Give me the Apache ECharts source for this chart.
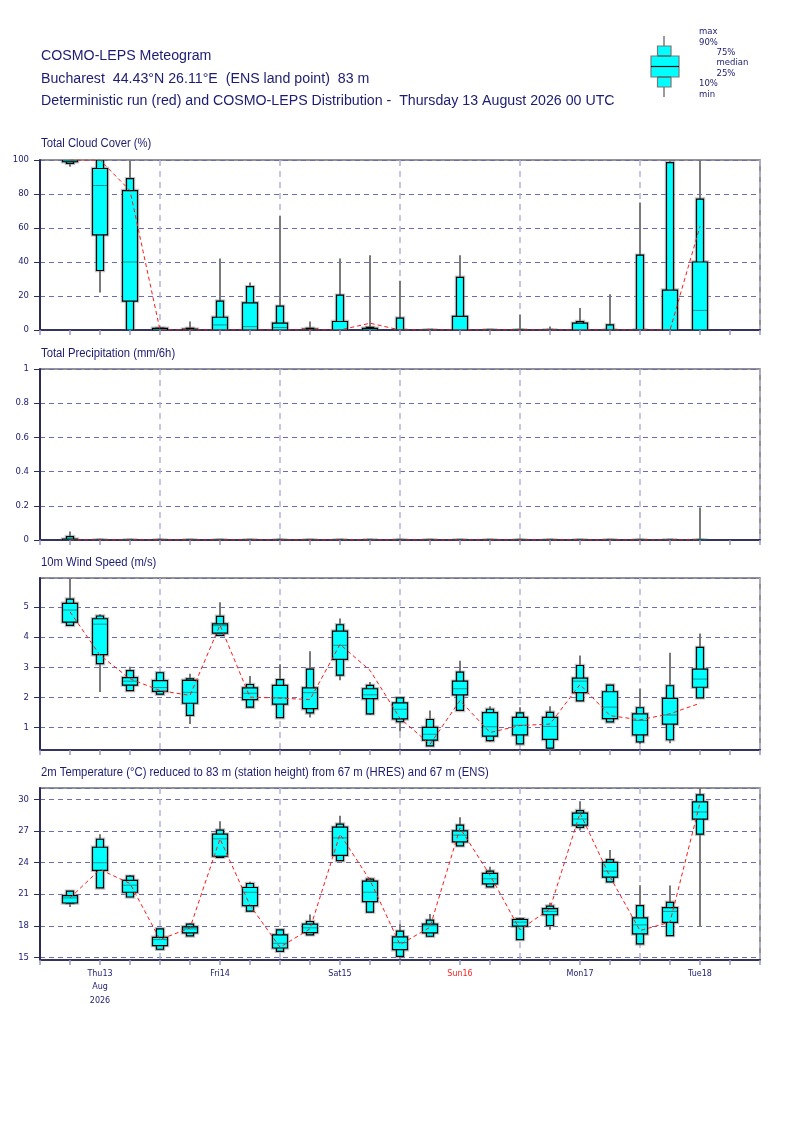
<!DOCTYPE html>
<html>
<head>
<meta charset="utf-8">
<script src="https://cdn.jsdelivr.net/npm/echarts@6/dist/echarts.min.js"></script>
<style>
  html, body { margin: 0; padding: 0; background: #fff; }
  #chart { width: 800px; height: 1131px; }
</style>
</head>
<body>
<div id="chart"></div>
<script>
// forecast steps (hours after 13 Aug 00 UTC)
const hours = [6, 12, 18, 24, 30, 36, 42, 48, 54, 60, 66, 72, 78, 84, 90, 96, 102, 108, 114, 120, 126, 132];

// each row: [min, 10%, 25%, median, 75%, 90%, max]
const cloudBox = [
  [96, 98, 99, 99.5, 100, 100, 100],
  [22, 35, 56, 85, 95, 100, 100],
  [0, 0, 17, 40, 82, 89, 100],
  [0, 0, 0, 0, 1, 1, 1.5],
  [0, 0, 0, 0, 0.5, 1, 5],
  [0, 0, 0, 3, 7.5, 17, 42],
  [0, 0, 0, 2, 16, 25.5, 28],
  [0, 0, 0, 1.5, 4, 14, 67],
  [0, 0, 0, 0, 0.5, 1, 5],
  [0, 0, 0, 0, 5, 20.5, 42],
  [0, 0, 0, 0, 1, 1.5, 44],
  [0, 0, 0, 0, 0, 7, 29],
  [0, 0, 0, 0, 0, 0, 0],
  [0, 0, 0, 0, 8, 31, 44],
  [0, 0, 0, 0, 0, 0, 0],
  [0, 0, 0, 0, 0, 0, 9],
  [0, 0, 0, 0, 0, 0, 2],
  [0, 0, 0, 0, 4, 5, 13],
  [0, 0, 0, 0, 0, 3, 21],
  [0, 0, 0, 0, 0, 44, 75],
  [0, 0, 0, 0, 23.5, 98.5, 100],
  [0, 0, 0, 11.5, 40, 77, 100]
];
const cloudDet = [100, 100, 82, 0, 0, 0, 0, 0, 0, 0, 4, 0, 0, 0, 0, 0, 0, 0, 0, 0, 0, 61];

const precipBox = [
  [0, 0, 0, 0, 0.005, 0.02, 0.05],
  [0, 0, 0, 0, 0, 0, 0.008],
  [0, 0, 0, 0, 0, 0, 0],
  [0, 0, 0, 0, 0, 0, 0],
  [0, 0, 0, 0, 0, 0, 0],
  [0, 0, 0, 0, 0, 0, 0],
  [0, 0, 0, 0, 0, 0, 0],
  [0, 0, 0, 0, 0, 0, 0],
  [0, 0, 0, 0, 0, 0, 0],
  [0, 0, 0, 0, 0, 0, 0],
  [0, 0, 0, 0, 0, 0, 0],
  [0, 0, 0, 0, 0, 0, 0],
  [0, 0, 0, 0, 0, 0, 0],
  [0, 0, 0, 0, 0, 0, 0],
  [0, 0, 0, 0, 0, 0, 0],
  [0, 0, 0, 0, 0, 0, 0],
  [0, 0, 0, 0, 0, 0, 0],
  [0, 0, 0, 0, 0, 0, 0],
  [0, 0, 0, 0, 0, 0, 0],
  [0, 0, 0, 0, 0, 0, 0],
  [0, 0, 0, 0, 0, 0, 0],
  [0, 0, 0, 0, 0, 0, 0.19]
];
const precipDet = [0, 0, 0, 0, 0, 0, 0, 0, 0, 0, 0, 0, 0, 0, 0, 0, 0, 0, 0, 0, 0, 0];

const windBox = [
  [4.39, 4.39, 4.5, 4.9, 5.12, 5.26, 6.0],
  [2.18, 3.12, 3.42, 4.43, 4.61, 4.7, 4.76],
  [2.23, 2.23, 2.41, 2.54, 2.66, 2.89, 3.02],
  [2.11, 2.11, 2.2, 2.33, 2.56, 2.82, 2.82],
  [1.12, 1.41, 1.81, 2.17, 2.57, 2.62, 2.79],
  [4.06, 4.06, 4.13, 4.38, 4.44, 4.69, 5.16],
  [1.68, 1.68, 1.93, 2.14, 2.32, 2.43, 2.71],
  [1.33, 1.33, 1.78, 1.99, 2.4, 2.59, 3.1],
  [1.34, 1.49, 1.63, 2.16, 2.32, 2.94, 3.53],
  [2.57, 2.74, 3.26, 3.73, 4.2, 4.41, 4.62],
  [1.42, 1.46, 1.96, 2.09, 2.29, 2.4, 2.51],
  [0.87, 1.2, 1.29, 1.61, 1.82, 1.99, 2.0],
  [0.4, 0.4, 0.59, 0.78, 1.01, 1.27, 1.57],
  [1.57, 1.57, 2.09, 2.29, 2.54, 2.84, 3.22],
  [0.53, 0.57, 0.72, 1.03, 1.5, 1.61, 1.71],
  [0.46, 0.46, 0.76, 1.08, 1.34, 1.49, 1.68],
  [0.32, 0.32, 0.61, 1.04, 1.34, 1.51, 1.71],
  [1.89, 1.89, 2.16, 2.54, 2.64, 3.06, 3.39],
  [1.19, 1.19, 1.3, 1.68, 2.19, 2.41, 2.41],
  [0.46, 0.53, 0.76, 1.24, 1.46, 1.66, 2.29],
  [0.48, 0.6, 1.12, 1.42, 1.97, 2.39, 3.48],
  [1.99, 1.99, 2.34, 2.61, 2.94, 3.66, 4.12]
];
const windDet = [4.84, 3.4, 2.62, 2.23, 2.07, 4.4, 2.01, 1.98, 1.93, 3.76, 2.9, 1.31, 0.45, 1.9, 0.84, 1.07, 1.12, 2.43, 1.4, 1.26, 1.46, 1.81];

const tempBox = [
  [19.79, 20.17, 20.17, 20.65, 20.87, 21.29, 21.29],
  [21.6, 21.6, 23.27, 24.0, 25.47, 26.23, 26.71],
  [20.74, 20.74, 21.19, 21.86, 22.31, 22.72, 22.82],
  [15.77, 15.77, 16.12, 16.69, 16.91, 17.71, 17.71],
  [17.04, 17.04, 17.33, 17.71, 17.9, 18.16, 18.25],
  [24.51, 24.51, 24.61, 26.27, 26.71, 27.1, 27.93],
  [19.4, 19.4, 19.91, 21.19, 21.64, 22.02, 22.18],
  [15.57, 15.57, 15.89, 16.34, 17.14, 17.62, 17.62],
  [17.14, 17.14, 17.36, 17.81, 18.16, 18.41, 19.08],
  [24.19, 24.19, 24.7, 26.36, 27.38, 27.67, 28.47],
  [19.31, 19.31, 20.3, 21.19, 22.24, 22.44, 22.56],
  [14.9, 15.09, 15.73, 16.4, 16.95, 17.49, 18.16],
  [17.01, 17.01, 17.33, 18.0, 18.16, 18.54, 19.12],
  [25.6, 25.6, 25.98, 26.62, 27.03, 27.57, 28.31],
  [21.7, 21.7, 21.99, 22.47, 22.98, 23.2, 23.62],
  [16.69, 16.69, 17.97, 18.35, 18.6, 18.67, 18.76],
  [17.62, 18.03, 19.05, 19.37, 19.63, 19.88, 20.2],
  [27.06, 27.35, 27.57, 28.15, 28.72, 28.95, 29.84],
  [22.18, 22.18, 22.63, 23.2, 24.03, 24.29, 25.21],
  [16.28, 16.28, 17.23, 18.09, 18.76, 19.91, 21.86],
  [17.07, 17.07, 18.32, 19.37, 19.72, 20.23, 21.83],
  [17.9, 26.71, 28.15, 28.82, 29.78, 30.45, 31.5]
];
const tempDet = [20.65, 23.36, 22.02, 16.69, 17.8, 26.27, 19.95, 15.96, 17.71, 26.71, 22.34, 16.21, 17.87, 27.29, 22.82, 17.62, 19.63, 28.72, 22.66, 17.55, 18.35, 29.68];

const dayHours = [12, 36, 60, 84, 108, 132];
const dayLabels = ['Thu13\nAug\n2026', 'Fri14', 'Sat15', 'Sun16', 'Mon17', 'Tue18'];

const headerLines = [
  'COSMO-LEPS Meteogram',
  'Bucharest  44.43°N 26.11°E  (ENS land point)  83 m',
  'Deterministic run (red) and COSMO-LEPS Distribution -  Thursday 13 August 2026 00 UTC'
];
const panelTitles = [
  'Total Cloud Cover (%)',
  'Total Precipitation (mm/6h)',
  '10m Wind Speed (m/s)',
  '2m Temperature (°C) reduced to 83 m (station height) from 67 m (HRES) and 67 m (ENS)'
];

const NAVY = '#1c1c72';
const panels = [
  { top: 160, height: 170, min: 0, max: 100, interval: 20, box: cloudBox, det: cloudDet, titleY: 144 },
  { top: 369, height: 171, min: 0, max: 1, interval: 0.2, box: precipBox, det: precipDet, titleY: 353.5 },
  { top: 578, height: 172, min: 0.26, max: 5.96, box: windBox, det: windDet, titleY: 563 },
  { top: 788, height: 172, min: 14.75, max: 31.1, box: tempBox, det: tempDet, titleY: 773 }
];

function renderBox(params, api) {
  const h = api.value(0);
  const pt = (i) => api.coord([h, api.value(i)]);
  const lo = pt(1), p10 = pt(2), p25 = pt(3), med = pt(4), p75 = pt(5), p90 = pt(6), hi = pt(7);
  const x = lo[0];
  const halo = { fill: 'none', stroke: 'rgba(120,120,120,0.45)', lineWidth: 3.5 };
  const boxStyle = { fill: '#00ffff', stroke: '#000', lineWidth: 1.2 };
  const narrow = { x: x - 3.5, y: p90[1], width: 7, height: p10[1] - p90[1] };
  const wide = { x: x - 7.5, y: p75[1], width: 15, height: p25[1] - p75[1] };
  return {
    type: 'group',
    children: [
      { type: 'line', shape: { x1: x, y1: lo[1], x2: x, y2: hi[1] },
        style: { stroke: '#7a7a7a', lineWidth: 2 } },
      { type: 'rect', shape: narrow, style: halo },
      { type: 'rect', shape: wide, style: halo },
      { type: 'rect', shape: narrow, style: boxStyle },
      { type: 'rect', shape: wide, style: boxStyle },
      { type: 'line', shape: { x1: x - 7, y1: med[1], x2: x + 7, y2: med[1] },
        style: { stroke: '#009595', lineWidth: 1 } }
    ]
  };
}

function renderChart() {
  const chart = echarts.init(document.getElementById('chart'), null, { renderer: 'canvas' });

  const grid = [], xAxis = [], yAxis = [], series = [];
  panels.forEach((p, i) => {
    grid.push({
      left: 40, right: 40, top: p.top, height: p.height,
      show: true, borderColor: '#707070', borderWidth: 1.5, backgroundColor: 'transparent'
    });
    const isLast = i === panels.length - 1;
    // 6-hourly ticks along the bottom
    xAxis.push({
      type: 'value', gridIndex: i, min: 0, max: 144, interval: 6, position: 'bottom',
      axisLine: { show: true, lineStyle: { color: '#34345e', width: 2 } },
      axisTick: { show: true, length: 5, lineStyle: { color: '#9a9acc', width: 1.5 } },
      splitLine: { show: false },
      axisLabel: {
        show: isLast, margin: 7, fontFamily: 'DejaVu Sans', fontSize: 8, color: NAVY, lineHeight: 13.5,
        formatter: (v) => {
          const k = dayHours.indexOf(v);
          if (k < 0) return '';
          return k === 3 ? '{sun|' + dayLabels[k] + '}' : dayLabels[k];
        },
        rich: { sun: { color: '#ff2424', fontFamily: 'DejaVu Sans', fontSize: 8 } }
      }
    });
    // day separators
    xAxis.push({
      type: 'value', gridIndex: i, min: 0, max: 144, interval: 24, position: 'top',
      axisLine: { show: false }, axisTick: { show: false }, axisLabel: { show: false },
      splitLine: { show: true, lineStyle: { color: '#b4b4d6', width: 1.5, type: [6, 5] } }
    });
    const y = {
      type: 'value', gridIndex: i, min: p.min, max: p.max,
      axisLine: { show: true, lineStyle: { color: '#2c2c58', width: 2 } },
      axisTick: { show: true, length: 6, lineStyle: { color: '#2c2c58', width: 1 } },
      splitLine: { show: true, lineStyle: { color: '#6c6cb2', width: 1, type: [5, 4] } },
      axisLabel: { margin: 11, fontFamily: 'DejaVu Sans', fontSize: 8.5, color: NAVY }
    };
    if (p.interval) {
      y.interval = p.interval;
    } else {
      y.axisLabel.showMinLabel = false;
      y.axisLabel.showMaxLabel = false;
      y.axisLabel.formatter = (v) => (Math.abs(v - Math.round(v)) < 1e-6 ? String(Math.round(v)) : '');
    }
    yAxis.push(y);

    series.push({
      type: 'custom', xAxisIndex: 2 * i, yAxisIndex: i, clip: true, z: 3,
      renderItem: renderBox,
      encode: { x: 0, y: [1, 2, 3, 4, 5, 6, 7] },
      data: hours.map((h, k) => [h].concat(p.box[k]))
    });
    series.push({
      type: 'line', xAxisIndex: 2 * i, yAxisIndex: i, z: 5,
      symbol: 'none', silent: true,
      lineStyle: { color: '#ff1a1a', width: 1, type: [4, 3] },
      data: hours.map((h, k) => [h, p.det[k]])
    });
  });

  const graphic = [];
  headerLines.forEach((t, i) => {
    graphic.push({ type: 'text', x: 41, y: [56, 79, 101.5][i], scaleX: 1.014,
      style: { text: t, font: '14px "Liberation Sans", Arial, sans-serif', fill: NAVY, verticalAlign: 'middle' } });
  });
  panels.forEach((p, i) => {
    graphic.push({ type: 'text', x: 41, y: p.titleY, scaleX: 0.94,
      style: { text: panelTitles[i], font: '12px "Liberation Sans", Arial, sans-serif', fill: NAVY, verticalAlign: 'middle' } });
  });

  // key for the box symbols (top right)
  const keyStyle = { fill: '#00ffff', stroke: '#777', lineWidth: 1.2 };
  graphic.push(
    { type: 'line', shape: { x1: 664, y1: 36, x2: 664, y2: 97 }, style: { stroke: '#7a7a7a', lineWidth: 1.5 } },
    { type: 'rect', shape: { x: 657.5, y: 46, width: 13.5, height: 41 }, style: keyStyle },
    { type: 'rect', shape: { x: 651, y: 56, width: 28, height: 21 }, style: keyStyle },
    { type: 'line', shape: { x1: 651, y1: 66.5, x2: 679, y2: 66.5 }, style: { stroke: '#111', lineWidth: 1.2 } },
    { type: 'line', shape: { x1: 657.5, y1: 56, x2: 671, y2: 56 }, style: { stroke: '#555', lineWidth: 1 } },
    { type: 'line', shape: { x1: 657.5, y1: 77, x2: 671, y2: 77 }, style: { stroke: '#555', lineWidth: 1 } }
  );
  const keyText = [['max', 699, 32], ['90%', 699, 42.3], ['75%', 716.5, 52.3], ['median', 716.5, 62.7],
    ['25%', 716.5, 73.5], ['10%', 699, 84], ['min', 699, 94.3]];
  keyText.forEach(([t, x, yy]) => {
    graphic.push({ type: 'text', x: x, y: yy,
      style: { text: t, font: '8.5px "DejaVu Sans", sans-serif', fill: NAVY, verticalAlign: 'middle' } });
  });

  const option = {
    animation: false,
    backgroundColor: '#fff',
    grid, xAxis, yAxis, series, graphic
  };
  chart.setOption(option, true);
}

renderChart();
</script>
</body>
</html>
